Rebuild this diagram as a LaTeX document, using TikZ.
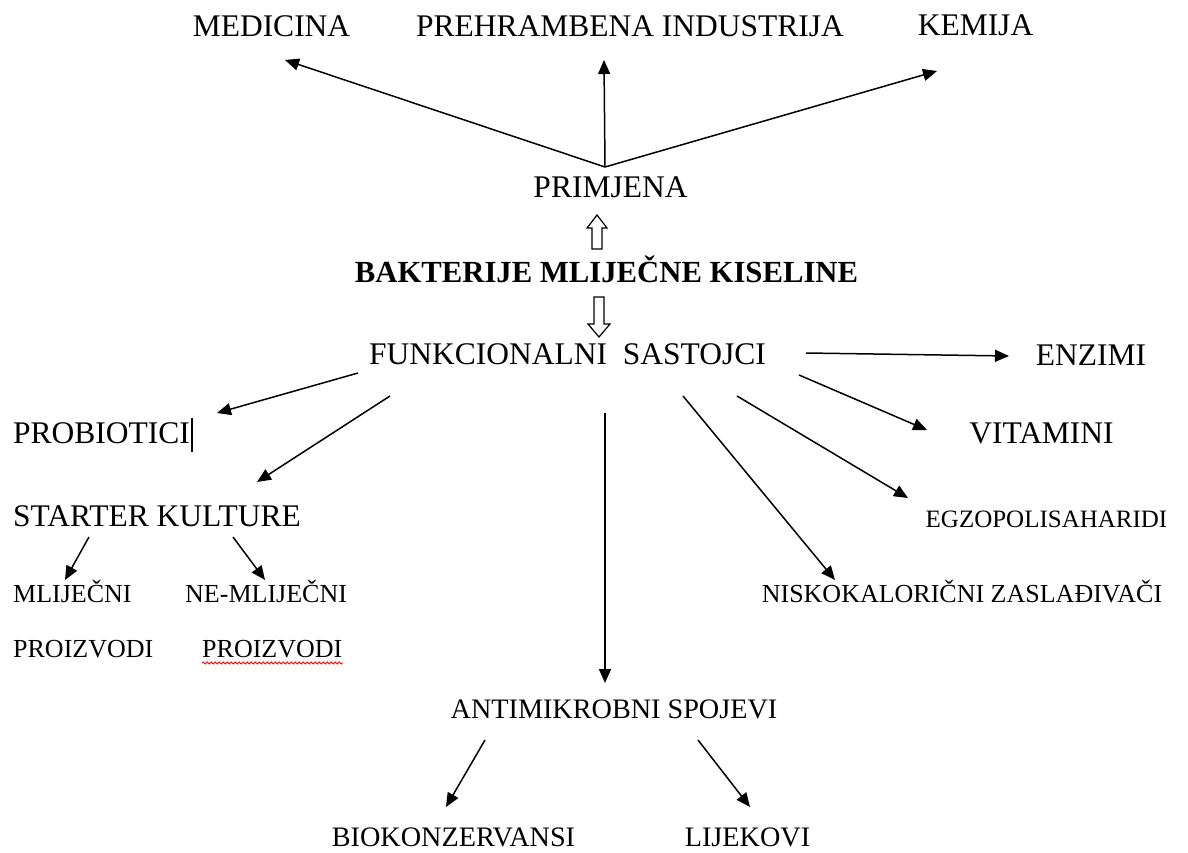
\documentclass[tikz,border=0pt]{standalone}
\usepackage{fontspec}
\setmainfont{Liberation Serif}
\usetikzlibrary{arrows.meta,decorations.pathmorphing}
\tikzset{
  big/.style={inner sep=0pt, font=\fontsize{31.5}{36}\selectfont},
  bold/.style={inner sep=0pt, font=\fontsize{30.7}{36}\selectfont\bfseries},
  mid/.style={inner sep=0pt, font=\fontsize{28.2}{32}\selectfont},
  sm/.style={inner sep=0pt, font=\fontsize{26}{30}\selectfont},
  egz/.style={inner sep=0pt, font=\fontsize{25}{30}\selectfont},
  arr/.style={line width=1.5pt, -{Triangle[length=14pt,width=12pt]}},
  hollow/.style={line width=1.2pt, fill=white, line join=miter},
  caret/.style={line width=1.5pt},
  spell/.style={red, line width=0.8pt, decorate, decoration={snake, amplitude=1pt, segment length=4pt}}
}
\begin{document}
\begin{tikzpicture}[x=1pt,y=-1pt]
\useasboundingbox[fill=white] (0,0) rectangle (1188,853);

% text nodes
\node[big, anchor=base] (med) at (271.5,37) {MEDICINA};
\node[big, anchor=base] (preh) at (630,37) {PREHRAMBENA INDUSTRIJA};
\node[big, anchor=base] (kem) at (975.5,36) {KEMIJA};
\node[big, anchor=base] (prim) at (610.5,198) {PRIMJENA};
\node[bold, anchor=base] (bmk) at (606.5,282) {BAKTERIJE MLIJEČNE KISELINE};
\node[big, anchor=base] (fun) at (567.5,364) {FUNKCIONALNI\ \ SASTOJCI};
\node[big, anchor=base] (enz) at (1091,365) {ENZIMI};
\node[big, anchor=base west] (prob) at (13,443) {PROBIOTICI};
\node[big, anchor=base] (vit) at (1041.5,443) {VITAMINI};
\node[big, anchor=base west] (start) at (13,526) {STARTER KULTURE};
\node[egz, anchor=base] (egzo) at (1046.5,527) {EGZOPOLISAHARIDI};
\node[sm, anchor=base west] (mlij) at (13,602) {MLIJEČNI};
\node[sm, anchor=base west] (nemlij) at (185,602) {NE-MLIJEČNI};
\node[sm, anchor=base] (nisko) at (962,602) {NISKOKALORIČNI ZASLAĐIVAČI};
\node[sm, anchor=base west] (pro1) at (13,657) {PROIZVODI};
\node[sm, anchor=base west] (pro2) at (202,657) {PROIZVODI};
\node[mid, anchor=base] (anti) at (614,718) {ANTIMIKROBNI SPOJEVI};
\node[mid, anchor=base] (bio) at (453.5,846) {BIOKONZERVANSI};
\node[mid, anchor=base] (lij) at (747.5,846) {LIJEKOVI};

% arrow end points
\coordinate (pS) at (605,167);
\coordinate (medE) at (285,60);
\coordinate (prehE) at (604,60);
\coordinate (kemE) at (937,71);
\coordinate (fEnz) at (806,353);
\coordinate (enzE) at (1009,356);
\coordinate (fVit) at (799,375);
\coordinate (vitE) at (927,430);
\coordinate (fEgz) at (737,396);
\coordinate (egzE) at (908,498);
\coordinate (fNis) at (683,396);
\coordinate (nisE) at (835,580);
\coordinate (fAnt) at (605,413);
\coordinate (antE) at (605,683);
\coordinate (fPro) at (358,373);
\coordinate (proE) at (217,413);
\coordinate (fSta) at (390,396);
\coordinate (staE) at (257,482);
\coordinate (sM) at (89,537);
\coordinate (mE) at (65,580);
\coordinate (sN) at (233,537);
\coordinate (nE) at (265,580);
\coordinate (aB) at (485,740);
\coordinate (bE) at (446,807);
\coordinate (aL) at (698,740);
\coordinate (lE) at (750,807);

\draw[arr] (pS) -- (medE);
\draw[arr] (pS) -- (prehE);
\draw[arr] (pS) -- (kemE);
\draw[arr] (fEnz) -- (enzE);
\draw[arr] (fVit) -- (vitE);
\draw[arr] (fEgz) -- (egzE);
\draw[arr] (fNis) -- (nisE);
\draw[arr] (fAnt) -- (antE);
\draw[arr] (fPro) -- (proE);
\draw[arr] (fSta) -- (staE);
\draw[arr] (sM) -- (mE);
\draw[arr] (sN) -- (nE);
\draw[arr] (aB) -- (bE);
\draw[arr] (aL) -- (lE);

% hollow block arrows
\draw[hollow] (592,249) -- (602,249) -- (602,228) -- (607,228) -- (597,215) -- (587,228) -- (592,228) -- cycle;
\draw[hollow] (594,297) -- (604,297) -- (604,324) -- (610,324) -- (599,337) -- (588,324) -- (594,324) -- cycle;

% text cursor and spelling underline
\coordinate (cT) at (192,418);
\coordinate (cB) at (192,452);
\draw[caret] (cT) -- (cB);
\coordinate (uL) at (202,663);
\coordinate (uR) at (343,663);
\draw[spell] (uL) -- (uR);
\end{tikzpicture}
\end{document}
